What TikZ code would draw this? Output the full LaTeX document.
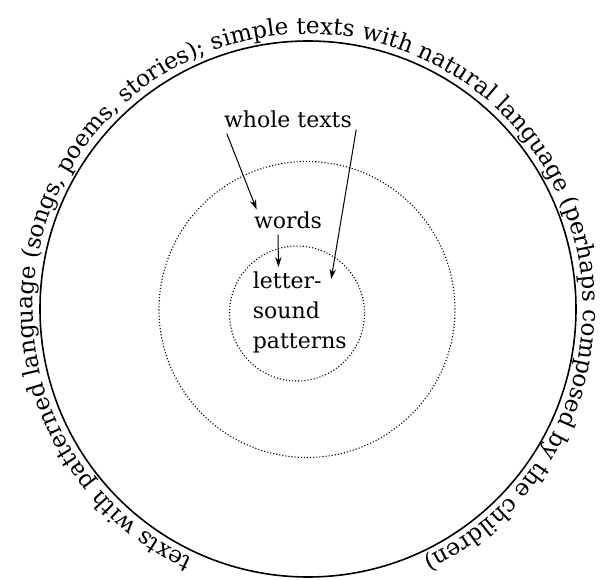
\documentclass[tikz,border=0pt]{standalone}
\usepackage{fontspec}
\setmainfont{DejaVu Serif}
\usepackage{tikz}
\usetikzlibrary{arrows.meta,calc,decorations.text}
\tikzset{
  ring/.style={draw=black, line width=0.8pt},
  ringdotted/.style={draw=black, line width=0.55pt, densely dotted},
  lbl/.style={inner sep=0pt, font=\fontsize{11}{15}\selectfont, align=left},
  arrow/.style={-{Stealth[length=5pt,width=3.2pt]}, line width=0.5pt, black},
}
\begin{document}
\begin{tikzpicture}[x=0.5pt,y=0.5pt]
\useasboundingbox (0,0) rectangle (602,580);
\coordinate (c) at (308,271);
\coordinate (cm) at (307,270.5);
\coordinate (ci) at (297,266.5);
\draw[ring] (c) circle[radius=134pt];
\draw[ringdotted] (cm) circle[radius=74pt];
\draw[ringdotted] (ci) circle[radius=33.75pt];
\path[decorate, decoration={text along path, text align=center,
  text={|\fontsize{11.6}{14}\selectfont|texts with patterned language (songs, poems, stories); simple texts with natural language (perhaps composed by the children)}}]
  (c) ++(250:137.5pt) arc[start angle=250, end angle=-70, radius=137.5pt];
\node[lbl, anchor=base] (whole) at (288,452.5) {whole texts};
\node[lbl, anchor=base] (words) at (288,351.5) {words};
\node[lbl, anchor=north west] (letters) at (252.5,309) {letter-\\sound\\patterns};
\draw[arrow] ($(whole.base west)+(3,-6)$) -- ($(words.base west)+(3,19)$);
\draw[arrow] ($(whole.base east)+(4,-2)$) -- ($(letters.north east)+(-16,-8)$);
\draw[arrow] ($(words.base)+(-10,-6)$) -- ($(letters.north west)+(26,4)$);
\end{tikzpicture}
\end{document}
